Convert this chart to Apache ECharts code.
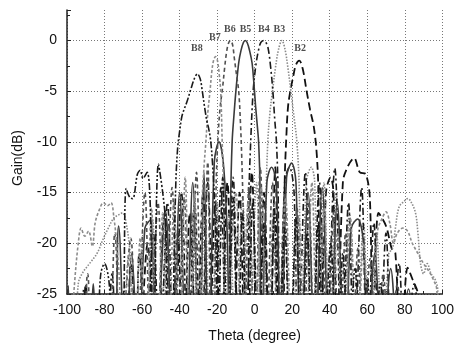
<!DOCTYPE html>
<html><head><meta charset="utf-8">
<script src="https://cdn.jsdelivr.net/npm/echarts@6/dist/echarts.min.js"></script>
<style>html,body{margin:0;padding:0;background:#fff}#c{width:457px;height:348px}</style>
</head><body><div id="c"></div>
<script>
// Tick values
const xTicks = [-100,-80,-60,-40,-20,0,20,40,60,80,100];
const yTicks = [-25,-20,-15,-10,-5,0];

// Beam patterns [theta(deg), gain(dB)] (values below -25 fall outside the axis)
const b2 = [[-100,-32],[-93,-32],[-90,-24],[-87,-32],[-70,-32],[-66,-22],[-62,-32],[-57,-20],[-53,-32],[-48,-17],[-44.5,-32],[-41,-19],[-38,-32],[-34.5,-17],[-31,-32],[-27.5,-15],[-24.5,-32],[-21,-16],[-18,-32],[-14.5,-14],[-11.5,-32],[-8,-15],[-5,-32],[-1.5,-13],[1.5,-32],[5,-15],[8,-32],[11,-12.5],[13.5,-32],
  [15,-32],[16,-14],[17,-9],[17.8,-6.5],[19,-5],[20.5,-3.6],[22,-2.4],[23.8,-2],[25.6,-2.8],[27.7,-5],[29.5,-6.8],[31.5,-8.5],[33,-11],[34,-15],[35,-32],
  [38,-15],[40.5,-13.5],[42,-15],[44,-32],[47,-14],[50,-12.3],[53,-11.6],[56,-13],[59.3,-13.2],[61.5,-16],[63,-32],[66,-17],[70,-18.3],[73,-20.5],[75,-21],[78,-32],[81.5,-22.4],[84,-23.5],[87,-25],[89,-32]];
const b3 = [[-100,-32],[-97,-32],[-94,-24],[-92,-23],[-88,-22],[-84,-21],[-81,-19.7],[-78,-18.5],[-75,-17.5],[-72.5,-17.2],[-70.5,-17],[-68,-18.5],[-66,-22],[-64.5,-32],
  [-61,-21],[-58,-32],[-54.5,-17.5],[-51,-32],[-47,-20],[-44,-32],[-40,-18],[-37,-32],[-33,-17],[-30,-32],[-26.5,-17.5],[-23.5,-32],[-20,-16],[-17,-32],[-13.5,-17],[-10,-32],[-6.5,-15.5],[-3,-32],[1,-14],[4,-32],
  [5,-32],[6,-16],[7,-10],[8.2,-7],[9.5,-5],[11,-2.8],[12.7,-0.9],[14.5,0],[16.2,-0.9],[17.8,-2.8],[19.3,-5],[20.8,-7.3],[22.5,-10],[23.8,-15],[24.8,-32],
  [27.5,-14],[30.2,-12.5],[32,-14],[34,-32],[37,-14],[40,-32],[43.5,-15],[47,-32],[50.5,-17],[54,-32],[58,-18],[61,-32],[65,-19],[68,-32],[71.5,-21],[73.5,-20.5],[75,-18.5],[77,-16.4],[80,-15.8],[81.5,-15.6],[83,-15.8],[85.7,-17],[87,-19],[88.4,-22],[90,-23],[92,-22],[94,-23],[96,-23.5],[97.5,-24.5],[99,-32]];
const b4 = [[-100,-32],[-94,-32],[-91,-24.5],[-88,-32],[-80,-32],[-76,-23],[-72,-32],[-65,-32],[-61.5,-21],[-58,-32],[-54,-19],[-50.5,-32],[-46.5,-16],[-43,-32],[-39,-15],[-35.5,-32],[-32,-16],[-28.5,-32],[-25,-14],[-21.5,-32],[-18,-14.5],[-15,-32],[-11.5,-13.5],[-7.5,-32],
  [-4,-32],[-3,-15],[-2,-9.5],[-0.8,-5],[0.6,-2.5],[2,-1],[3.3,-0.2],[4.8,0],[6,-0.2],[7.2,-0.8],[8.5,-2.6],[9.7,-5],[10.7,-7.8],[11.6,-10],[12.5,-15],[13.3,-32],
  [16,-14],[18.5,-12.5],[21,-15],[23,-32],[27,-13],[30.5,-32],[34.5,-14],[38,-32],[42.7,-12.6],[46.5,-32],[50,-16],[53,-32],[57,-14.5],[60,-32],[63.5,-18],[66.5,-32],[70,-19],[73,-32],[77,-22],[80,-32],[85,-24],[89,-32]];
const b5 = [[-100,-32],[-99.3,-24.2],[-98,-32],[-89,-32],[-86,-24],[-83,-32],[-76,-32],[-72.5,-18.3],[-69,-32],[-65.5,-21],[-62,-32],[-58.5,-18.5],[-55.5,-17.7],[-52.5,-32],[-47.5,-16.8],[-43.5,-32],[-40,-15],[-36.5,-32],[-33,-14],[-29.5,-32],[-27,-13],[-24.5,-32],
  [-21.5,-12],[-19,-10],[-16.5,-12.5],[-14.5,-20],[-13.5,-32],
  [-12.8,-16],[-12,-10],[-11,-7.3],[-10,-5],[-8.5,-2.2],[-7.3,-1],[-6,-0.2],[-5,0],[-4,-0.2],[-2.7,-1],[-1.4,-2.2],[-0.5,-4],[0.5,-6.5],[1.5,-8.6],[2.1,-10],[2.8,-14],[3.5,-32],
  [6.5,-14],[9,-12.5],[11.5,-14],[14,-32],[17,-13.5],[19.7,-12.1],[22,-14],[24.5,-32],[28.5,-15],[32,-32],[36,-14.5],[40,-32],[44,-16],[48,-32],[51.5,-18.5],[54.9,-17.6],[58,-20],[60,-32],[64,-21],[68,-32],[72.5,-22.5],[77,-32],[82,-24.5],[86,-32]];
const b6 = [[-100,-32],[-93,-32],[-89,-23],[-86,-32],[-79,-32],[-74.5,-19],[-71.5,-32],[-66,-19.5],[-63,-32],[-58.5,-15],[-55.5,-32],[-51.5,-16],[-48,-32],[-44,-14.5],[-41,-32],[-37.5,-15.5],[-34.5,-32],[-31,-13],[-28,-32],[-25,-12],[-23,-32],
  [-22,-32],[-20.5,-14],[-19.5,-9.5],[-18.5,-6.8],[-17,-4.5],[-16,-2.7],[-15,-1.2],[-14,-0.3],[-12.9,0],[-11.8,-0.4],[-10.8,-1.8],[-9.6,-3.5],[-8.5,-5],[-7.6,-8],[-6.8,-12],[-6,-18],[-5.3,-32],
  [-3,-14],[0,-32],[3,-12.5],[6,-32],[9.5,-14],[12.5,-32],[16,-15],[19,-32],[22.5,-16.5],[26,-32],[29,-16],[32,-32],[35.5,-18],[39,-32],[42,-17],[45,-32],[48.5,-19],[52,-32],[55,-20.5],[58,-32],[61.5,-21.5],[65,-32],[68.5,-23],[72,-32],[76,-24],[79,-32]];
const b7 = [[-99,-32],[-96,-24],[-94,-20],[-92.5,-18.5],[-90.5,-19.3],[-88.5,-18.8],[-86.5,-20.3],[-85,-18],[-83,-16.8],[-80.5,-16],[-78.5,-16.3],[-76.5,-16],[-75,-17.5],[-73.5,-20],[-72,-24],[-71,-32],
  [-67,-21],[-64,-32],[-61,-19.5],[-58,-32],[-55,-16.5],[-52,-32],[-49,-17],[-46,-32],[-43,-16],[-40,-32],[-37,-13.5],[-34.5,-32],[-32,-15],[-30,-32],
  [-29,-32],[-28,-16],[-27,-12.5],[-26,-10],[-25,-7.2],[-23.8,-5],[-22.8,-3],[-21.8,-1.9],[-20.8,-1.6],[-19.8,-2],[-18.9,-3.3],[-18.1,-5],[-17.3,-10],[-16.5,-16],[-15.8,-32],
  [-10,-15],[-7,-32],[-3.5,-16],[0,-32],[3.5,-14.5],[7,-32],[10,-17],[13,-32],[16.5,-15.5],[20,-32],[23.5,-17.5],[27,-32],[30.5,-14],[33.5,-32],[37,-16.5],[40.5,-32],[44,-19],[47.5,-32],[51,-17.5],[54.5,-32],[58,-20],[61.5,-32],[65.5,-18.8],[68,-17.5],[70,-16.9],[72,-18],[74,-20],[76,-19],[79,-18.5],[81.5,-18.8],[84,-20],[87,-21],[90,-22],[93,-22.8],[95,-23.5],[97,-24.5],[99,-32]];
const b8 = [[-100,-32],[-98,-25.5],[-96,-32],[-86,-32],[-82,-23],[-80,-22],[-77.5,-24],[-75,-32],
  [-71,-32],[-68.5,-14.6],[-66.5,-15.5],[-65,-15.6],[-62.5,-13.2],[-61,-12.8],[-59.5,-13.6],[-57.3,-13],[-55.5,-17],[-54,-32],
  [-51.3,-12.2],[-49,-15],[-47.5,-18],[-46,-32],
  [-44,-32],[-43,-22],[-42,-14],[-41,-10.5],[-40,-9],[-38.8,-7.5],[-37.6,-6.8],[-36,-6],[-34,-4.8],[-32,-3.7],[-30.5,-3.3],[-29,-3.8],[-27.9,-5],[-26.5,-6.8],[-25.5,-7.9],[-24.5,-8.7],[-23.5,-9.8],[-22.5,-12],[-21.5,-15.5],[-20.5,-21],[-19.8,-32],
  [-17,-13.5],[-14.5,-32],[-11.5,-15.5],[-9,-32],[-6.5,-17],[-4,-32],[-1,-16],[2,-32],[5,-18],[8,-32],[10.5,-16.5],[13,-32],[16,-18.5],[19,-32],[22,-17.5],[25,-32],[28,-19],[31,-32],[34,-18],[37,-32],[40.5,-20],[44,-32],[47,-21],[50,-32],[53.5,-22.5],[57,-32],[60,-23.5],[63,-32],[67,-24],[70,-32]];

// Beam name labels [theta, gain]
const beamNames = ['B8','B7','B6','B5','B4','B3','B2'];
const beamLabelPos = [[-30.8,-0.8],[-21.2,0.3],[-13.2,1.1],[-4.9,1.1],[4.9,1.1],[13.2,1.1],[24.2,-0.8]];

const styles = {
  B2:{color:'#111', type:[8,4], width:1.8},
  B3:{color:'#8a8a8a', type:[1.5,1.5], width:1.6},
  B4:{color:'#1a1a1a', type:[7,3,2,3], width:1.6},
  B5:{color:'#3a3a3a', type:'solid', width:1.6},
  B6:{color:'#505050', type:[4,3], width:1.6},
  B7:{color:'#8c8c8c', type:[3,2], width:1.6},
  B8:{color:'#1a1a1a', type:[7,2,2,2,2,2], width:1.6}
};
const seriesData = {B2:b2,B3:b3,B4:b4,B5:b5,B6:b6,B7:b7,B8:b8};

const series = Object.keys(seriesData).map(k => ({
  name:k, type:'line', data:seriesData[k], showSymbol:false, smooth:0.35, clip:true,
  lineStyle:{color:styles[k].color, type:styles[k].type, width:styles[k].width}, z:3
}));
series.push({
  type:'scatter', symbolSize:0, z:5, silent:true,
  data: beamNames.map((n,i)=>({name:n, value:beamLabelPos[i]})),
  label:{show:true, position:'inside', formatter:p=>p.name, fontFamily:'Liberation Serif', fontWeight:'bold', fontSize:10, color:'#222'}
});

const chart = echarts.init(document.getElementById('c'), null, {renderer:'canvas'});
chart.setOption({
  animation:false,
  backgroundColor:'#fff',
  grid:{left:67, right:12, top:10, bottom:51, containLabel:false},
  xAxis:{type:'value', min:-100, max:100, interval:20,
    name:'Theta (degree)', nameLocation:'middle', nameGap:35,
    nameTextStyle:{fontFamily:'Liberation Sans', fontSize:14, color:'#111'},
    axisLine:{show:true, onZero:false, lineStyle:{color:'#222', width:1.5}},
    axisTick:{show:true, inside:true, length:4, lineStyle:{color:'#222'}},
    minorTick:{show:true, splitNumber:2, length:3, lineStyle:{color:'#222'}},
    axisLabel:{margin:9, fontFamily:'Liberation Sans', fontSize:14, color:'#111'},
    splitLine:{show:true, lineStyle:{color:'#777', type:[1,2], width:1}}
  },
  yAxis:{type:'value', min:-25, max:3, interval:5,
    name:'Gain(dB)', nameLocation:'middle', nameGap:42,
    nameTextStyle:{fontFamily:'Liberation Sans', fontSize:14, color:'#111', padding:[0,12,0,0]},
    axisLine:{show:true, onZero:false, lineStyle:{color:'#222', width:1.5}},
    axisTick:{show:true, inside:true, length:4, lineStyle:{color:'#222'}},
    minorTick:{show:true, splitNumber:2, length:3, lineStyle:{color:'#222'}},
    axisLabel:{margin:10, fontFamily:'Liberation Sans', fontSize:14, color:'#111',
      formatter:v => (yTicks.indexOf(v) >= 0 ? String(v) : '')},
    splitLine:{show:true, showMaxLine:false, lineStyle:{color:'#777', type:[1,2], width:1}}
  },
  series:series
});
</script></body></html>
